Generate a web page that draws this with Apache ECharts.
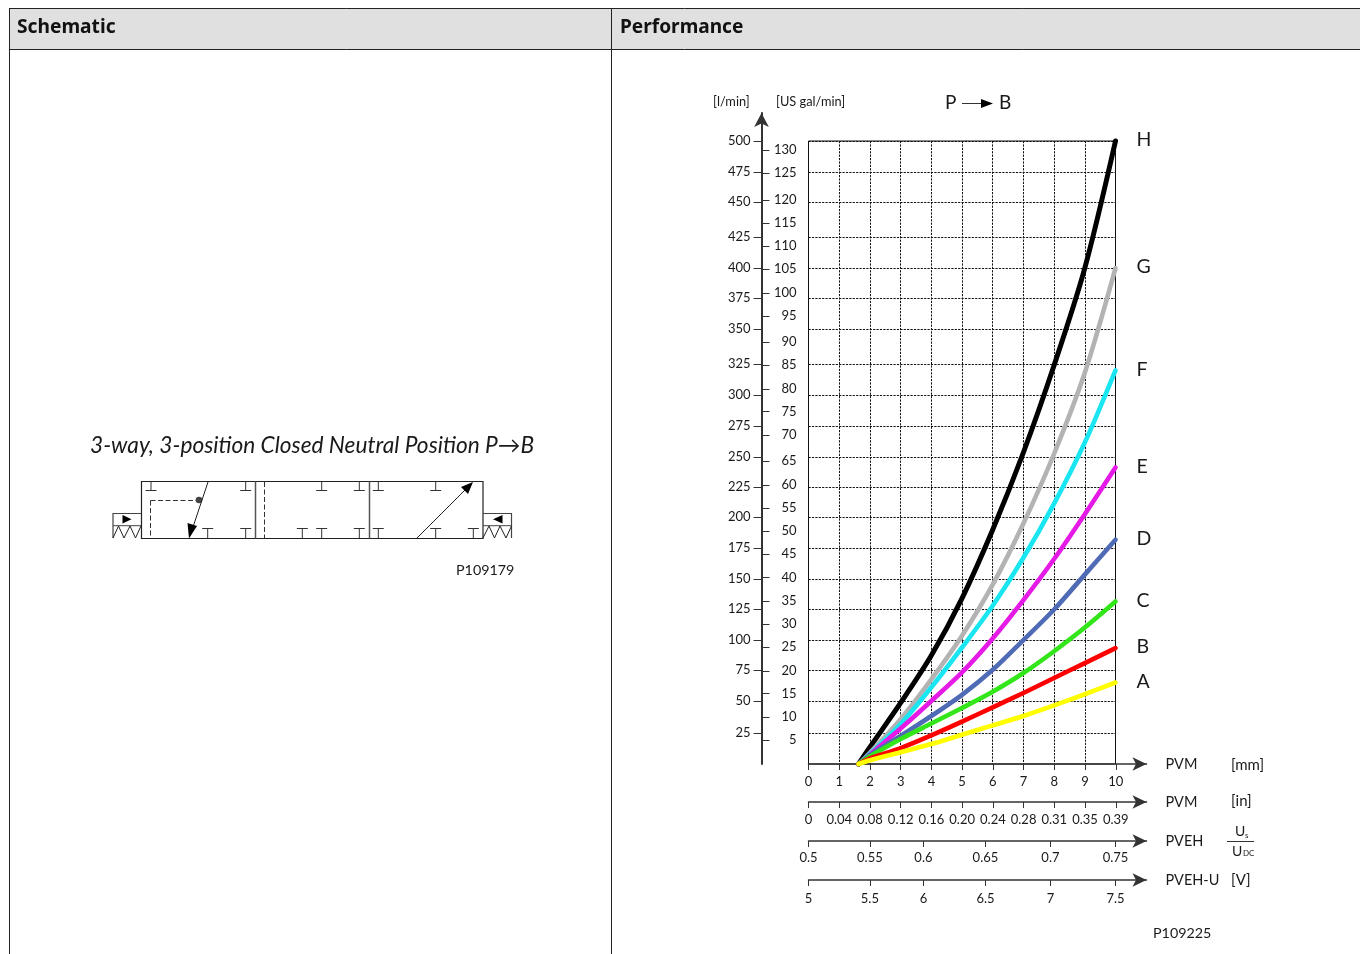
<!DOCTYPE html>
<html>
<head>
<meta charset="utf-8">
<style>html,body{margin:0;padding:0;background:#fff}#c{width:1360px;height:954px}</style>
<script src="https://cdn.jsdelivr.net/npm/echarts@6/dist/echarts.min.js"></script>
</head>
<body>
<div id="c"></div>
<script>
// Curve data: [PVM stroke in mm, flow in l/min]
var curveA = [[1.63,0],[2,3],[3,9.5],[4,16],[5,23.5],[6,31],[7,38.5],[8,47],[9,56],[10,65.4]];
var curveB = [[1.63,0],[2,4.5],[3,12.8],[4,23],[5,34],[6,45.5],[7,57],[8,69],[9,81],[10,93]];
var curveC = [[1.63,0],[2,6],[3,20],[4,32.5],[5,45],[6,58],[7,73],[8,90.5],[9,109.5],[10,130.4]];
var curveD = [[1.63,0],[2,7],[3,22.5],[4,38.5],[5,55.5],[6,75.6],[7,99.5],[8,124],[9,152],[10,180]];
var curveE = [[1.63,0],[2,7.5],[3,28.5],[4,50.6],[5,73.5],[6,100.7],[7,131.5],[8,164.5],[9,200.5],[10,238]];
var curveF = [[1.63,0],[2,8],[3,32],[4,61.5],[5,93.5],[6,127],[7,165.5],[8,209],[9,258],[10,316]];
var curveG = [[1.63,0],[2,9],[3,36],[4,68],[5,103],[6,144],[7,193],[8,249],[9,314],[10,398]];
var curveH = [[1.63,0],[2,13.5],[3,49],[4,87],[5,133],[6,188],[7,250],[8,320],[9,398],[10,500]];

var curveNames = ['H','G','F','E','D','C','B','A'];
var curveColors = ['#000000','#b3b3b3','#1ae6f2','#e61ae6','#4f6bb5','#33e61a','#ff0000','#ffff00'];
var curveData = [curveH,curveG,curveF,curveE,curveD,curveC,curveB,curveA];

// Axis readings
var flowTicks = [24.9,50.6,75.4,99.5,124.4,148.5,173.4,198.2,222.3,246.4,271.3,296.1,321,349.1,374,398,423,451,475.1,500];
var galTicks = [5.1,10,14.9,19.7,24.8,29.7,34.6,39.5,44.5,49.4,54.3,59.2,64.3,69.8,74.7,79.5,84.6,89.5,95,99.9,105,109.8,114.7,119.6,125.3,130.2];
var mmLabels = ['0','1','2','3','4','5','6','7','8','9','10',''];
var inchLabels = ['0','0.04','0.08','0.12','0.16','0.20','0.24','0.28','0.31','0.35','0.39',''];
var pvehTicks = [0.5,0.55,0.5936,0.6441,0.697,0.75];
var pvehUTicks = [5,5.5,5.936,6.441,6.97,7.5];

var FONT = 'Lato';
var AXC = '#333';
var TXT = '#1a1a1a';

function line(x1,y1,x2,y2,w,color,dash){
  return {type:'line',silent:true,shape:{x1:x1,y1:y1,x2:x2,y2:y2},style:{stroke:color||'#000',lineWidth:w||1,lineDash:dash||null}};
}
function poly(pts,fill){
  return {type:'polygon',silent:true,shape:{points:pts},style:{fill:fill||'#000'}};
}
function pl(pts,w,color){
  return {type:'polyline',silent:true,shape:{points:pts},style:{stroke:color||'#000',lineWidth:w||1,fill:'none'}};
}
function txt(x,y,s,size,opts){
  opts=opts||{};
  return {type:'text',silent:true,x:x,y:y,style:{text:s,fontFamily:opts.font||FONT,fontSize:size,fontWeight:opts.weight||'normal',fontStyle:opts.style||'normal',fill:opts.fill||TXT,textAlign:opts.align||'left',textVerticalAlign:'middle',verticalAlign:'middle'}};
}
function tTop(x){return [line(x,482,x,490.5,1,'#333'),line(x-5.5,490.5,x+5.5,490.5,1,'#333')];}
function tBot(x){return [line(x,528.5,x,538,1,'#333'),line(x-5.5,528.5,x+5.5,528.5,1,'#333')];}

var g = [];
// table frame
g.push({type:'rect',silent:true,shape:{x:9,y:8,width:1351,height:41},style:{fill:'#e0e0e0'}});
g.push(line(9,8.5,1360,8.5,1,'#222'),line(9,49.5,1360,49.5,1,'#222'),line(9.5,8,9.5,954,1,'#222'),line(611.5,8,611.5,954,1,'#222'));
g.push(txt(17,28,'Schematic',19.2,{font:'Noto Sans',weight:'bold',fill:'#111'}),txt(620,28,'Performance',19.1,{font:'Noto Sans',weight:'bold',fill:'#111'}));
// schematic
g.push(txt(90,446,'3-way, 3-position Closed Neutral Position P\u2192B',22.7,{style:'italic'}));
g.push({type:'rect',silent:true,shape:{x:141.5,y:481.5,width:341.5,height:57},style:{fill:'none',stroke:'#222',lineWidth:1.2}});
g.push(line(255.5,481.5,255.5,538.5,1.5,'#555'),line(369.5,481.5,369.5,538.5,1.5,'#555'));
g.push(line(264.5,482,264.5,538,1,'#333',[5,2.5]),line(150.5,500.5,150.5,538,1,'#333',[5,2.5]),line(150.5,500.5,199,500.5,1,'#333',[5,2.5]));
g.push({type:'circle',silent:true,shape:{cx:199,cy:500,r:3.3},style:{fill:'#444'}});
g.push(line(208,482,192,530,1,'#222'),poly([[189,538.5],[187.5,523],[197,526]],'#000'));
g.push(line(417,538,466,489,1,'#222'),poly([[473,482],[461,487],[468,494]],'#000'));
[151,245.7,321.7,359.3,378.3,435.7].forEach(function(x){g=g.concat(tTop(x));});
[207.7,245.7,302.3,321.7,359.3,378.3,435.7,473.3].forEach(function(x){g=g.concat(tBot(x));});
g.push(pl([[141,513.5],[113,513.5],[113,538]],1.2,'#444'),line(113,525.7,141,525.7,1,'#444'));
g.push(pl([[113,538],[118.5,526],[124,538],[130,526],[135.5,538],[141,526]],1,'#222'));
g.push(poly([[122.5,515],[131.5,519.2],[122.5,523.5]],'#000'));
g.push(pl([[483,513.5],[511.5,513.5],[511.5,538]],1.2,'#444'),line(483,525.7,511.5,525.7,1,'#444'));
g.push(pl([[483,538],[489,526],[494.5,538],[500,526],[506,538],[511.5,526]],1,'#222'));
g.push(poly([[502.5,515],[493,519.2],[502.5,523.5]],'#000'));
g.push(txt(456,570,'P109179',14.3));
// performance annotations
g.push(txt(713,102,'[l/min]',12.8),txt(776,102,'[US gal/min]',12.8));
g.push(txt(945,103,'P',19),txt(999,103,'B',19));
g.push(line(962,103.5,985,103.5,1,'#333'),poly([[993,103.5],[981,99],[981,108]],'#000'));
g.push(txt(1231,765,'[mm]',15),txt(1231,801.5,'[in]',15),txt(1231,880.5,'[V]',15));
g.push(line(1227,841.5,1254,841.5,1,'#333'));
g.push(txt(1235,831,'U',14),txt(1245,835,'s',8),txt(1232,851,'U',14),txt(1243,853,'DC',8));
g.push(txt(1153,933,'P109225',14.3));

var labelStyle = {fontFamily:FONT,fontSize:13,color:TXT};
var axisLine = {show:true,onZero:false,lineStyle:{color:AXC,width:1.5},symbol:['none','arrow'],symbolSize:[10,14]};
var axisTick = {show:true,length:6,lineStyle:{color:'#333',width:1}};
function nameOf(s){return {name:s,nameLocation:'end',nameGap:19,nameTextStyle:{fontFamily:FONT,fontSize:14.5,color:TXT,verticalAlign:'middle',align:'left'}};}
function notBlank(i,v){return v!=='';}

var option = {
  animation:false,
  backgroundColor:'#fff',
  grid:[
    {left:808.5,top:141,width:307,height:623,show:true,borderColor:'#111',borderWidth:1,backgroundColor:'transparent'},
    {left:808.5,top:113,width:338,height:651,show:false}
  ],
  xAxis:[
    {id:'xPlot',gridIndex:0,type:'value',min:0,max:10,interval:1,axisLine:{show:false},axisTick:{show:false},axisLabel:{show:false},
     splitLine:{show:true,lineStyle:{color:'#111',width:1,type:[2.2,1.2]}}},
    Object.assign({id:'xMm',gridIndex:1,type:'category',boundaryGap:false,position:'bottom',offset:0,data:mmLabels,
      axisLine:axisLine,axisTick:Object.assign({},axisTick,{interval:notBlank}),
      axisLabel:Object.assign({},labelStyle,{interval:0,margin:11}),splitLine:{show:false}},nameOf('PVM')),
    Object.assign({id:'xIn',gridIndex:1,type:'category',boundaryGap:false,position:'bottom',offset:38,data:inchLabels,
      axisLine:axisLine,axisTick:Object.assign({},axisTick,{interval:notBlank}),
      axisLabel:Object.assign({},labelStyle,{interval:0,margin:11}),splitLine:{show:false}},nameOf('PVM')),
    Object.assign({id:'xPveh',gridIndex:1,type:'value',position:'bottom',offset:77,min:0.5,max:0.77524,
      axisLine:axisLine,axisTick:Object.assign({},axisTick,{customValues:pvehTicks}),
      axisLabel:Object.assign({},labelStyle,{customValues:pvehTicks,margin:10,formatter:function(v){var r=Math.round(v/0.05)*0.05;return String(+r.toFixed(2));}}),splitLine:{show:false}},nameOf('PVEH')),
    Object.assign({id:'xPvehU',gridIndex:1,type:'value',position:'bottom',offset:116,min:5,max:7.7524,
      axisLine:axisLine,axisTick:Object.assign({},axisTick,{customValues:pvehUTicks}),
      axisLabel:Object.assign({},labelStyle,{customValues:pvehUTicks,margin:12,formatter:function(v){return String(Math.round(v*2)/2);}}),splitLine:{show:false}},nameOf('PVEH-U'))
  ],
  yAxis:[
    {gridIndex:0,type:'value',min:0,max:500,axisLine:{show:false},axisLabel:{show:false},
     axisTick:{show:false,customValues:flowTicks},
     splitLine:{show:true,lineStyle:{color:'#111',width:1,type:[2.2,1.2]}}},
    {gridIndex:1,type:'value',position:'left',offset:47,min:0,max:522.47,
     axisLine:{show:true,onZero:false,lineStyle:{color:AXC,width:2},symbol:['none','arrow'],symbolSize:[11,14]},
     axisTick:{show:true,length:8,lineStyle:{color:'#333',width:1},customValues:flowTicks},
     axisLabel:Object.assign({},labelStyle,{customValues:flowTicks,margin:11,padding:[2,0,0,0],formatter:function(v){return String(Math.round(v/25)*25);}}),
     splitLine:{show:false}},
    {gridIndex:1,type:'value',position:'left',offset:47,min:0,max:138.04,
     axisLine:{show:false,onZero:false},
     axisTick:{show:true,inside:true,length:8,lineStyle:{color:'#333',width:1},customValues:galTicks},
     axisLabel:Object.assign({},labelStyle,{inside:true,align:'right',customValues:galTicks,margin:35,formatter:function(v){return String(Math.round(v/5)*5);}}),
     splitLine:{show:false}}
  ],
  series:curveData.map(function(d,i){
    return {name:curveNames[i],type:'line',xAxisIndex:0,yAxisIndex:0,data:d,smooth:0.3,showSymbol:false,symbol:'none',clip:false,
      lineStyle:{color:curveColors[i],width:i===0?5:4.6,cap:'round',join:'round'},
      itemStyle:{color:curveColors[i]},
      endLabel:{show:true,formatter:'{a}',distance:21,offset:[0,-1],fontFamily:FONT,fontSize:19.5,color:TXT},
      silent:true,z:10+i};
  }),
  graphic:{elements:g}
};
var chart = echarts.init(document.getElementById('c'),null,{width:1360,height:954});
chart.setOption(option);
</script>
</body>
</html>
